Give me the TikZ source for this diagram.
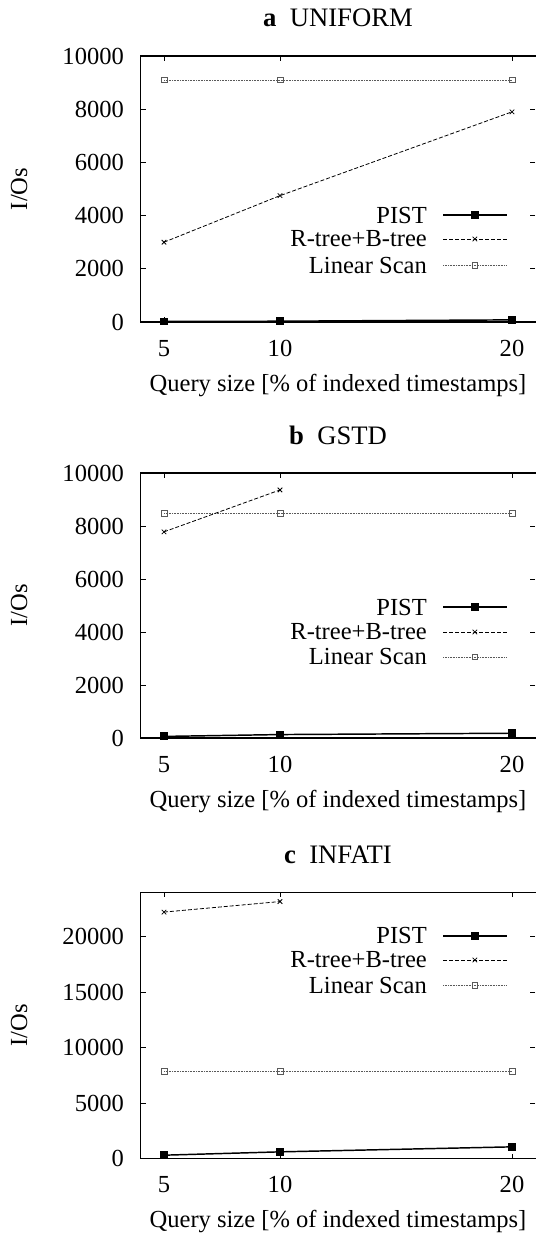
\documentclass[tikz,border=0pt]{standalone}
\usepackage{fontspec}
\setmainfont{Liberation Serif}
\usetikzlibrary{plotmarks}

\begin{document}
\begin{tikzpicture}[
    x=0.75pt, y=-0.75pt,
    font=\fontsize{18.4}{21}\selectfont,
    frame/.style={
        draw=black,
        line width=0.8pt
    },
    tick/.style={line width=0.6pt},
    ticklabel/.style={inner sep=0pt},
    title/.style={
        font=\fontsize{20}{24}\selectfont,
        anchor=base,
        inner sep=0pt
    },
    axislabel/.style={anchor=base, inner sep=0pt},
    keytext/.style={anchor=east, inner sep=0pt},
    pistline/.style={
        line width=1.1pt,
        mark=square*,
        mark size=2.4pt,
        mark options={solid}
    },
    rtreeline/.style={
        line width=0.6pt,
        dash pattern=on 3pt off 1.5pt,
        mark=x,
        mark size=2.4pt,
        mark options={solid}
    },
    scanline/.style={
        line width=0.6pt,
        color=gray!70!black,
        dash pattern=on 0.6pt off 0.6pt,
        mark=square,
        mark size=2.2pt,
        mark options={solid}
    }
]
\useasboundingbox (0,0) rectangle (535,1234);

% Panel a: UNIFORM
\begin{scope}[shift={(48,322)}, x=17.4pt, y=19.95pt]
    \draw[frame] (4,0) rectangle (21.15,10);
    \foreach \v/\lab in {0/0, 2/2000, 4/4000, 6/6000, 8/8000, 10/10000} {
        \draw[tick] (4,\v) -- ++(3.75pt,0);
        \draw[tick] (21,\v) -- ++(-3.75pt,0);
        \node[ticklabel, anchor=east] (a-y\v) at (3.28,\v) {\lab};
    }
    \foreach \d in {5,10,20} {
        \draw[tick] (\d,0) -- ++(0,3.75pt);
        \draw[tick] (\d,10) -- ++(0,-3.75pt);
        \node[ticklabel, anchor=base, yshift=-25.5pt] (a-x\d) at (\d,0) {\d};
    }
    \node[title, yshift=21.75pt] (a-title) at (12.5,10) {\textbf{a}~~UNIFORM};
    \node[axislabel, yshift=-51.75pt] (a-xlabel) at (12.5,0) {Query size [\% of indexed timestamps]};
    \node[axislabel, rotate=90] (a-ylabel) at (-0.905,5) {I/Os};

    \draw[scanline] plot coordinates {(5,9.1) (10,9.1) (20,9.1)};
    \draw[rtreeline] plot coordinates {(5,3) (10,4.75) (20,7.9)};
    \draw[pistline] plot coordinates {(5,0.02) (10,0.03) (20,0.08)};

    % key
    \node[keytext] (a-key1) at (16.34,4.02) {PIST};
    \node[keytext] (a-key2) at (16.34,3.12) {R-tree+B-tree};
    \node[keytext] (a-key3) at (16.34,2.14) {Linear Scan};
    \draw[pistline] plot[mark indices={2}] coordinates {(17.03,4.02) (18.4,4.02) (19.78,4.02)};
    \draw[rtreeline] plot[mark indices={2}] coordinates {(17.03,3.12) (18.4,3.12) (19.78,3.12)};
    \draw[scanline] plot[mark indices={2}] coordinates {(17.03,2.14) (18.4,2.14) (19.78,2.14)};
\end{scope}

% Panel b: GSTD
\begin{scope}[shift={(48,738)}, x=17.4pt, y=19.875pt]
    \draw[frame] (4,0) rectangle (21.15,10);
    \foreach \v/\lab in {0/0, 2/2000, 4/4000, 6/6000, 8/8000, 10/10000} {
        \draw[tick] (4,\v) -- ++(3.75pt,0);
        \draw[tick] (21,\v) -- ++(-3.75pt,0);
        \node[ticklabel, anchor=east] (b-y\v) at (3.28,\v) {\lab};
    }
    \foreach \d in {5,10,20} {
        \draw[tick] (\d,0) -- ++(0,3.75pt);
        \draw[tick] (\d,10) -- ++(0,-3.75pt);
        \node[ticklabel, anchor=base, yshift=-25.5pt] (b-x\d) at (\d,0) {\d};
    }
    \node[title, yshift=21.75pt] (b-title) at (12.5,10) {\textbf{b}~~GSTD};
    \node[axislabel, yshift=-51.75pt] (b-xlabel) at (12.5,0) {Query size [\% of indexed timestamps]};
    \node[axislabel, rotate=90] (b-ylabel) at (-0.905,5) {I/Os};

    \draw[scanline] plot coordinates {(5,8.49) (10,8.49) (20,8.49)};
    \draw[rtreeline] plot coordinates {(5,7.78) (10,9.36)};
    \draw[pistline] plot coordinates {(5,0.06) (10,0.13) (20,0.18)};

    % key
    \node[keytext] (b-key1) at (16.34,4.94) {PIST};
    \node[keytext] (b-key2) at (16.34,4.0) {R-tree+B-tree};
    \node[keytext] (b-key3) at (16.34,3.06) {Linear Scan};
    \draw[pistline] plot[mark indices={2}] coordinates {(17.03,4.94) (18.4,4.94) (19.78,4.94)};
    \draw[rtreeline] plot[mark indices={2}] coordinates {(17.03,4.0) (18.4,4.0) (19.78,4.0)};
    \draw[scanline] plot[mark indices={2}] coordinates {(17.03,3.06) (18.4,3.06) (19.78,3.06)};
\end{scope}

% Panel c: INFATI
\begin{scope}[shift={(48,1158.5)}, x=17.4pt, y=8.325pt]
    \draw[frame] (4,0) rectangle (21.15,24);
    \foreach \v/\lab in {0/0, 5/5000, 10/10000, 15/15000, 20/20000} {
        \draw[tick] (4,\v) -- ++(3.75pt,0);
        \draw[tick] (21,\v) -- ++(-3.75pt,0);
        \node[ticklabel, anchor=east] (c-y\v) at (3.28,\v) {\lab};
    }
    \foreach \d in {5,10,20} {
        \draw[tick] (\d,0) -- ++(0,3.75pt);
        \draw[tick] (\d,24) -- ++(0,-3.75pt);
        \node[ticklabel, anchor=base, yshift=-25.5pt] (c-x\d) at (\d,0) {\d};
    }
    \node[title, yshift=21.75pt] (c-title) at (12.5,24) {\textbf{c}~~INFATI};
    \node[axislabel, yshift=-51.75pt] (c-xlabel) at (12.5,0) {Query size [\% of indexed timestamps]};
    \node[axislabel, rotate=90] (c-ylabel) at (-0.905,12) {I/Os};

    \draw[scanline] plot coordinates {(5,7.85) (10,7.85) (20,7.85)};
    \draw[rtreeline] plot coordinates {(5,22.2) (10,23.15)};
    \draw[pistline] plot coordinates {(5,0.3) (10,0.6) (20,1.05)};

    % key
    \node[keytext] (c-key1) at (16.34,20.05) {PIST};
    \node[keytext] (c-key2) at (16.34,17.88) {R-tree+B-tree};
    \node[keytext] (c-key3) at (16.34,15.63) {Linear Scan};
    \draw[pistline] plot[mark indices={2}] coordinates {(17.03,20.05) (18.4,20.05) (19.78,20.05)};
    \draw[rtreeline] plot[mark indices={2}] coordinates {(17.03,17.88) (18.4,17.88) (19.78,17.88)};
    \draw[scanline] plot[mark indices={2}] coordinates {(17.03,15.63) (18.4,15.63) (19.78,15.63)};
\end{scope}

\end{tikzpicture}
\end{document}
